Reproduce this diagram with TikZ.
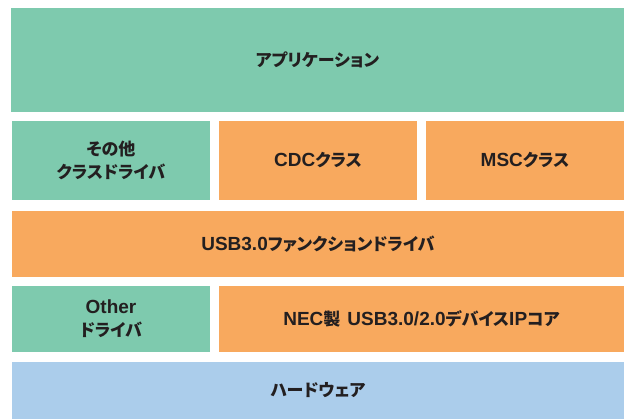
\documentclass[tikz,border=0pt]{standalone}
\usepackage{fontspec}
\setmainfont{Noto Sans CJK JP}[RawFeature=+palt]
\newfontfamily\latn{Liberation Sans}
\newcommand{\La}[1]{{\latn\bfseries\fontsize{19}{23}\selectfont #1}}
\definecolor{grn}{HTML}{7ECAAE}
\definecolor{org}{HTML}{F8A95E}
\definecolor{blu}{HTML}{ABCDEB}
\definecolor{txt}{HTML}{231F20}
\begin{document}
\begin{tikzpicture}[x=1pt,y=-1pt,
  layer/.style={inner sep=0pt, outer sep=0pt, text=txt, align=center,
    font=\fontsize{17}{23}\selectfont\bfseries},
]
\useasboundingbox (0,0) rectangle (626,419);
\fill[white] (0,0) rectangle (626,419);
\node[layer, fill=grn, minimum width=613pt, minimum height=104pt] (app) at (317.5,60) {アプリケーション};
\node[layer, fill=grn, minimum width=198pt, minimum height=79pt] (oth) at (111,160.5) {その他\\クラスドライバ};
\node[layer, fill=org, minimum width=198pt, minimum height=79pt] (cdc) at (318,160.5) {\La{CDC}クラス};
\node[layer, fill=org, minimum width=198pt, minimum height=79pt] (msc) at (525,160.5) {\La{MSC}クラス};
\node[layer, fill=org, minimum width=612pt, minimum height=66pt] (fn) at (318,244) {\La{USB3.0}ファンクションドライバ};
\node[layer, fill=grn, minimum width=198pt, minimum height=66pt] (odrv) at (111,319) {\La{Other}\\ドライバ};
\node[layer, fill=org, minimum width=405pt, minimum height=66pt] (nec) at (421.5,319) {\La{NEC}製\hspace{7pt}\La{USB3.0/2.0}デバイス\La{IP}コア};
\node[layer, fill=blu, minimum width=612pt, minimum height=57pt] (hw) at (318,390.5) {ハードウェア};
\end{tikzpicture}
\end{document}
